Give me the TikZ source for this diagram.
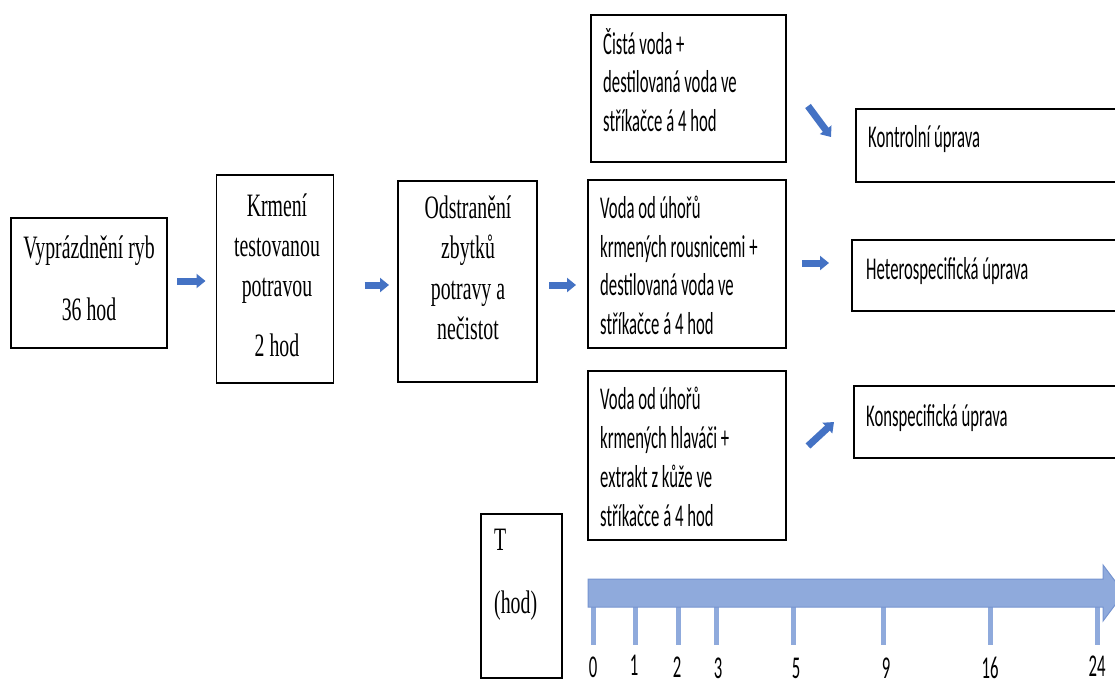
\documentclass[tikz,border=0pt]{standalone}
\usepackage{fontspec}
\usepackage{graphicx}
\newfontfamily\tnr{Liberation Serif}
\newfontfamily\calibri{Carlito}
\usetikzlibrary{arrows.meta,calc}
\definecolor{arrblue}{HTML}{4472C4}
\definecolor{tlfill}{HTML}{8FAADC}
\definecolor{tledge}{HTML}{7694D0}
\newcommand\ST[1]{\scalebox{1}[1.65]{#1}}
\newcommand\SC[1]{\scalebox{1}[1.9]{#1}}
\tikzset{
  box/.style={draw=black, line width=1.2pt, inner sep=0pt, outer sep=0pt},
  tms/.style={font=\fontsize{19.8}{20}\selectfont\tnr, inner sep=0pt, anchor=base},
  cal/.style={font=\fontsize{16.7}{17}\selectfont\calibri, inner sep=0pt, anchor=base west},
  num/.style={font=\fontsize{16.7}{17}\selectfont\calibri, inner sep=0pt, anchor=base},
  flow/.style={draw=arrblue, line width=7pt, -{Triangle[length=9pt,width=14pt]}},
  tick/.style={draw=tlfill, line width=5pt}
}
\begin{document}
\begin{tikzpicture}[x=1pt,y=-1pt]
\useasboundingbox (0,0) rectangle (1115,686);
\clip (0,0) rectangle (1115,686);
\fill[white] (0,0) rectangle (1115,686);

% boxes
\node[box, minimum width=156, minimum height=130] (b1) at (89,283) {};
\node[box, minimum width=117, minimum height=208] (b2) at (275,279) {};
\node[box, minimum width=139, minimum height=201] (b3) at (467.5,281.5) {};
\node[box, minimum width=195, minimum height=147] (b4) at (688.5,88.5) {};
\node[box, minimum width=198, minimum height=168] (b5) at (687,264) {};
\node[box, minimum width=198, minimum height=169] (b6) at (687,455.5) {};
\node[box, minimum width=270, minimum height=73] (r1) at (991,145.5) {};
\node[box, minimum width=274, minimum height=71] (r2) at (989,275.5) {};
\node[box, minimum width=272, minimum height=72] (r3) at (990,422) {};
\node[box, minimum width=81, minimum height=164] (tb) at (521.5,596) {};

% texts, left boxes (serif)
\node[tms] (t1a) at (89,258) {\ST{Vyprázdnění ryb}};
\node[tms] (t1b) at (89,320) {\ST{36 hod}};
\node[tms] (t2a) at (277,216) {\ST{Krmení}};
\node[tms] (t2b) at (277,256) {\ST{testovanou}};
\node[tms] (t2c) at (277,296) {\ST{potravou}};
\node[tms] (t2d) at (277,356) {\ST{2 hod}};
\node[tms] (t3a) at (468,218) {\ST{Odstranění}};
\node[tms] (t3b) at (468,258) {\ST{zbytků}};
\node[tms] (t3c) at (468,299) {\ST{potravy a}};
\node[tms] (t3d) at (468,339) {\ST{nečistot}};
\node[tms, anchor=base west] (tTa) at (494,550) {\ST{T}};
\node[tms, anchor=base west] (tTb) at (494,613) {\ST{(hod)}};

% texts, right boxes (sans)
\node[cal] (t4a) at (603,54) {\SC{Čistá voda +}};
\node[cal] (t4b) at (603,92) {\SC{destilovaná voda ve}};
\node[cal] (t4c) at (603,131) {\SC{stříkačce á 4 hod}};
\node[cal] (t5a) at (600,218) {\SC{Voda od úhořů}};
\node[cal] (t5b) at (600,257) {\SC{krmených rousnicemi +}};
\node[cal] (t5c) at (600,295) {\SC{destilovaná voda ve}};
\node[cal] (t5d) at (600,334) {\SC{stříkačce á 4 hod}};
\node[cal] (t6a) at (600,409) {\SC{Voda od úhořů}};
\node[cal] (t6b) at (600,448) {\SC{krmených hlaváči +}};
\node[cal] (t6c) at (600,487) {\SC{extrakt z kůže ve}};
\node[cal] (t6d) at (600,526) {\SC{stříkačce á 4 hod}};
\node[cal] (tr1) at (868,147) {\SC{Kontrolní úprava}};
\node[cal] (tr2) at (866,279) {\SC{Heterospecifická úprava}};
\node[cal] (tr3) at (866,426) {\SC{Konspecifická úprava}};

% flow arrows
\draw[flow] ($(b1.east)+(10,-2)$) -- ($(b2.west)+(-11,2)$);
\draw[flow] ($(b2.east)+(31,6)$) -- ($(b3.west)+(-9,3.5)$);
\draw[flow] ($(b3.east)+(12,3.5)$) -- ($(b5.west)+(-12,21)$);
\draw[flow] ($(b4.east)+(22,17.5)$) -- ($(r1.west)+(-25,-8.5)$);
\draw[flow] ($(b5.east)+(16,-1)$) -- ($(r2.west)+(-23,-12.5)$);
\draw[flow] ($(b6.east)+(22,-9.5)$) -- ($(r3.west)+(-20,0)$);

% timeline
\foreach \x in {593,635,678,716,793,883,990,1097}
  \draw[tick] (\x,605) -- (\x,645);
\filldraw[fill=tlfill, draw=tledge, line width=1pt]
  (588,579) -- (1103,579) -- (1103,565) -- (1124,593) -- (1103,621) -- (1103,607) -- (588,607) -- cycle;
\node[num] (n0) at (593,677) {\SC{0}};
\node[num] (n1) at (634,675) {\SC{1}};
\node[num] (n2) at (677,677) {\SC{2}};
\node[num] (n3) at (718,678) {\SC{3}};
\node[num] (n5) at (796,678) {\SC{5}};
\node[num] (n9) at (886,678) {\SC{9}};
\node[num] (n16) at (990,678) {\SC{16}};
\node[num] (n24) at (1097,676) {\SC{24}};
\end{tikzpicture}
\end{document}
